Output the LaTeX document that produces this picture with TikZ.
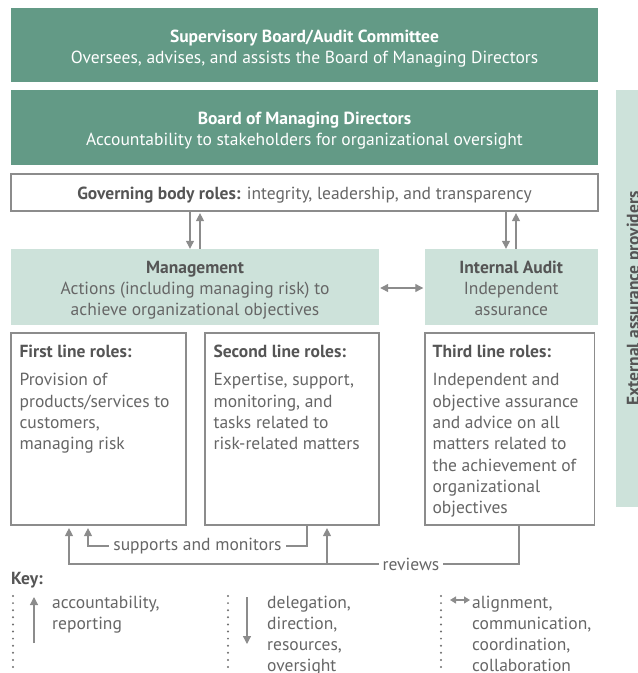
\documentclass[tikz,border=0pt]{standalone}
\usepackage{fontspec}
\setmainfont{PT Sans}
\usetikzlibrary{arrows.meta}

\definecolor{boardgreen}{HTML}{639A86}
\definecolor{palegreen}{HTML}{CDE2DA}
\definecolor{linegray}{HTML}{8C8C8C}
\definecolor{dotgray}{HTML}{707070}
\definecolor{txtgray}{HTML}{666666}
\definecolor{headgray}{HTML}{555555}

\tikzset{
  txt/.style={font=\fontsize{17.5}{21}\selectfont},
  listtxt/.style={font=\fontsize{17.5}{21.3}\selectfont},
  keytxt/.style={font=\fontsize{17.5}{21.1}\selectfont},
  boldtxt/.style={font=\bfseries\fontsize{17.5}{21}\selectfont},
  darkbox/.style={fill=boardgreen, draw=none, minimum width=587pt, inner sep=0pt},
  darktext/.style={text=white, align=center, inner sep=0pt, txt},
  palebox/.style={fill=palegreen, draw=none, inner sep=0pt, minimum height=76pt},
  paletext/.style={text=txtgray, align=center, inner sep=0pt, txt},
  rolebox/.style={draw=linegray, line width=1.2pt, fill=white,
    minimum height=192pt, inner sep=0pt},
  conn/.style={draw=linegray, line width=1.2pt},
  tip/.style={-{Triangle[width=8pt,length=8pt]}},
  lbl/.style={fill=white, text=txtgray, inner xsep=4pt, inner ysep=1pt, txt},
  roletitle/.style={anchor=base west, text=headgray, inner sep=0pt, boldtxt},
  roletext/.style={anchor=north west, align=left, text=txtgray, inner sep=0pt, listtxt},
  keytext/.style={anchor=north west, align=left, text=txtgray, inner sep=0pt, keytxt},
  keydots/.style={draw=dotgray, line width=2.2pt, line cap=round,
    dash pattern=on 0pt off 7.1pt},
}

\begin{document}
\begin{tikzpicture}[x=1pt, y=-1pt]
  \useasboundingbox (0,0) rectangle (638,673);
  \clip (0,0) rectangle (638,673);

  % governance bodies
  \node[darkbox, minimum height=74pt] (sup) at (304.5,45) {};
  \node[darktext] (suptext) at ([yshift=-3.5pt]sup.center)
    {{\bfseries Supervisory Board/Audit Committee}\\Oversees, advises, and assists the Board of Managing Directors};
  \node[darkbox, minimum height=75pt] (bmd) at (304.5,127.5) {};
  \node[darktext] (bmdtext) at ([yshift=-3.5pt]bmd.center)
    {{\bfseries Board of Managing Directors}\\Accountability to stakeholders for organizational oversight};
  \node[draw=linegray, line width=1.2pt, fill=white, minimum width=587pt,
        minimum height=37pt, inner sep=0pt] (gov) at (304.5,192.5) {};
  \node[text=txtgray, inner sep=0pt, txt] (govtext) at ([yshift=-2.5pt]gov.center)
    {{\bfseries\color{headgray}Governing body roles:} integrity, leadership, and transparency};

  % external assurance bar along the right edge
  \node[fill=palegreen, minimum width=44pt, minimum height=417pt, inner sep=0pt] (ext) at (638,298.5) {};
  \node[rotate=90, anchor=base, text=headgray, inner sep=0pt, boldtxt] (extlbl) at (639,298.5)
    {External assurance providers};

  % management and internal audit
  \node[palebox, minimum width=368pt] (mgmt) at (195,287) {};
  \node[paletext] (mgmttext) at ([yshift=-3pt]mgmt.center)
    {{\bfseries\color{headgray}Management}\\Actions (including managing risk) to\\achieve organizational objectives};
  \node[palebox, minimum width=173.5pt] (ia) at (511.25,287) {};
  \node[paletext] (iatext) at ([yshift=-1.5pt]ia.center)
    {{\bfseries\color{headgray}Internal Audit}\\Independent\\assurance};

  % role boxes
  \node[rolebox, minimum width=175pt] (first) at (98.5,429) {};
  \node[rolebox, minimum width=174pt] (second) at (292,429) {};
  \node[rolebox, minimum width=169.5pt] (third) at (509.75,429) {};

  \node[roletitle] (t1) at ([xshift=9pt, yshift=-25pt]first.north west) {First line roles:};
  \node[roletitle] (t2) at ([xshift=9pt, yshift=-25pt]second.north west) {Second line roles:};
  \node[roletitle] (t3) at ([xshift=8pt, yshift=-25pt]third.north west) {Third line roles:};

  \node[roletext] (b1) at ([xshift=9pt, yshift=-41pt]first.north west)
    {Provision of\\products/services to\\customers,\\managing risk};
  \node[roletext] (b2) at ([xshift=9pt, yshift=-41pt]second.north west)
    {Expertise, support,\\monitoring, and\\tasks related to\\risk-related matters};
  \node[roletext] (b3) at ([xshift=8pt, yshift=-41pt]third.north west)
    {Independent and\\objective assurance\\and advice on all\\matters related to\\the achievement of\\organizational\\objectives};

  % reporting lines between governing body, management and internal audit
  \coordinate (gd1) at (190,0);
  \coordinate (gu1) at (200,0);
  \coordinate (gd2) at (506,0);
  \coordinate (gu2) at (516,0);
  \draw[conn, tip] (gov.south -| gd1) -- (mgmt.north -| gd1);
  \draw[conn, tip, shorten >=1.5pt] (mgmt.north -| gu1) -- (gov.south -| gu1);
  \draw[conn, tip] (gov.south -| gd2) -- (ia.north -| gd2);
  \draw[conn, tip, shorten >=1.5pt] (ia.north -| gu2) -- (gov.south -| gu2);
  \draw[conn, {Triangle[width=8pt,length=8pt]}-{Triangle[width=8pt,length=8pt]},
        shorten <=1pt, shorten >=1pt] (mgmt.east) ++(0,1) -- (ia.west |- 0,288);

  % supports and monitors, reviews
  \coordinate (sm) at (307,546);
  \coordinate (sm2) at (88,546);
  \coordinate (rv) at (519,564);
  \coordinate (rv1) at (69,564);
  \coordinate (rv2) at (327,564);
  \draw[conn, tip, shorten >=2.5pt] (second.south -| sm) -- (sm)
    -- node[lbl] (smlbl) {supports and monitors} (sm2) -- (first.south -| sm2);
  \draw[conn, tip, shorten >=2.5pt] (third.south -| rv) -- (rv)
    -- node[lbl, pos=0.24] (rvlbl) {reviews} (rv1) -- (first.south -| rv1);
  \draw[conn, tip, shorten >=2.5pt] (rv2) -- (second.south -| rv2);

  % key
  \node[anchor=west, inner sep=0pt, text=headgray, boldtxt] (key) at (11,580.5) {Key:};

  \coordinate (d1a) at (13,596);  \coordinate (d1b) at (13,676);
  \coordinate (d2a) at (228,596); \coordinate (d2b) at (228,676);
  \coordinate (d3a) at (441,596); \coordinate (d3b) at (441,676);
  \draw[keydots] (d1a) -- (d1b);
  \draw[keydots] (d2a) -- (d2b);
  \draw[keydots] (d3a) -- (d3b);

  \coordinate (ku1) at (34,643);  \coordinate (ku2) at (34,597);
  \coordinate (kd1) at (247,597); \coordinate (kd2) at (247,644);
  \coordinate (kb1) at (450,600); \coordinate (kb2) at (470,600);
  \draw[conn, tip] (ku1) -- (ku2);
  \draw[conn, tip] (kd1) -- (kd2);
  \draw[conn, {Triangle[width=7pt,length=6pt]}-{Triangle[width=7pt,length=6pt]}] (kb1) -- (kb2);

  \node[keytext] (k1) at (52,595.5) {accountability,\\reporting};
  \node[keytext] (k2) at (267,595.5) {delegation,\\direction,\\resources,\\oversight};
  \node[keytext] (k3) at (472,595.5) {alignment,\\communication,\\coordination,\\collaboration};
\end{tikzpicture}
\end{document}
